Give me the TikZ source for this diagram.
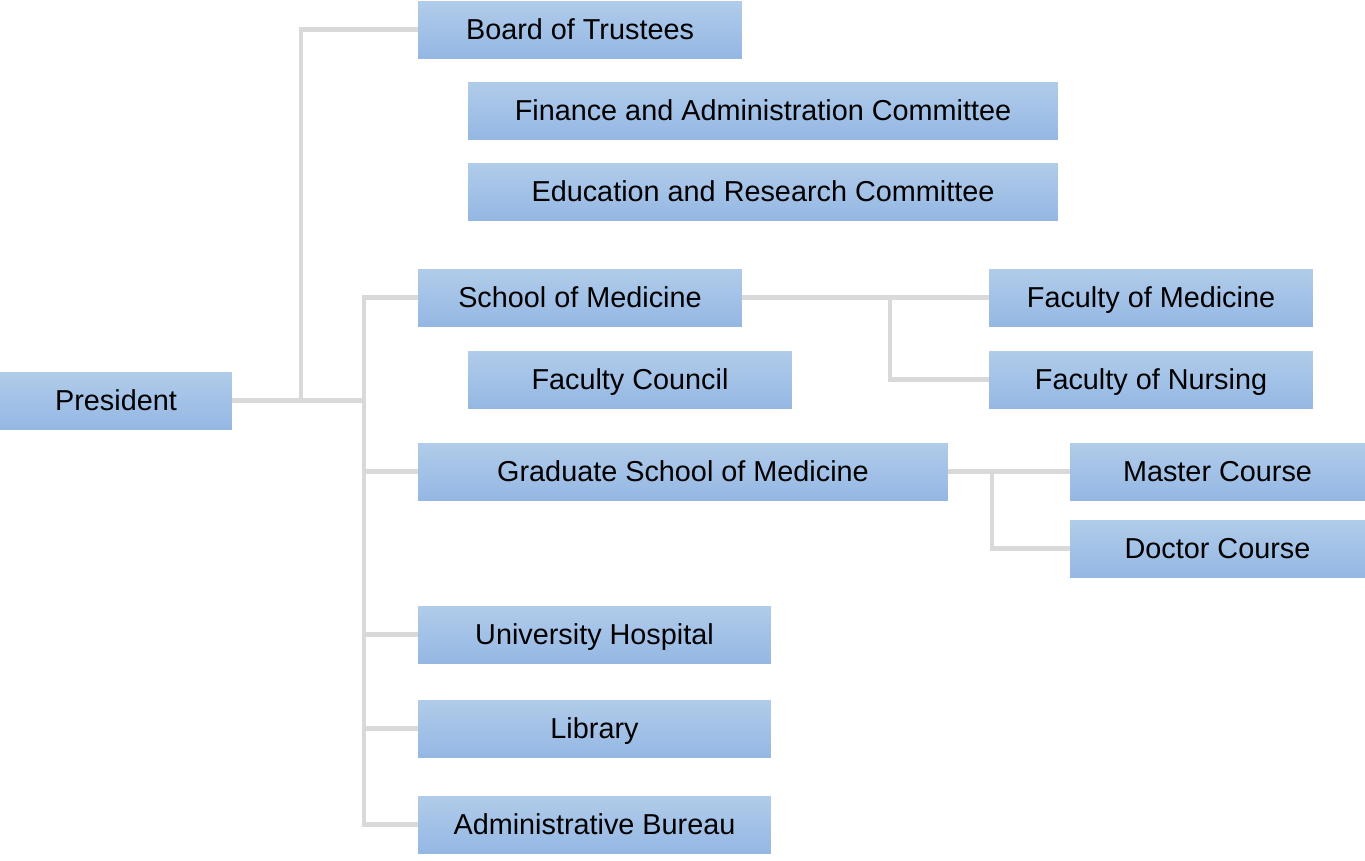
\documentclass[tikz,border=0pt]{standalone}
\usepackage{fontspec}
\setmainfont{Liberation Sans}
\usepackage{xcolor}
\usepackage{tikz}

\definecolor{boxtop}{HTML}{B1CCEA}
\definecolor{boxbot}{HTML}{94B7E3}
\definecolor{linegray}{HTML}{D9D9D9}

\tikzset{
	unit/.style={inner sep=0pt, minimum height=1.14cm, top color=boxtop, bottom color=boxbot,
		text height=11.8pt, text depth=0pt, font=\fontsize{16.4}{19}\selectfont},
	link/.style={draw=linegray, line width=2.5pt}
}

\begin{document}
\begin{tikzpicture}[x=0.02cm, y=-0.02cm]
		\useasboundingbox (0,0) rectangle (1365,860);

		\node (president) [unit, minimum width=4.64cm] at (116,   400.5) {President};
		\node (board)     [unit, minimum width=6.48cm] at (580,   29.5)  {Board of Trustees};
		\node (finance)   [unit, minimum width=11.8cm] at (763,   110.5) {Finance and Administration Committee};
		\node (edu)       [unit, minimum width=11.8cm] at (763,   191.5) {Education and Research Committee};
		\node (school)    [unit, minimum width=6.48cm] at (580,   297.5) {School of Medicine};
		\node (council)   [unit, minimum width=6.48cm] at (630,   379.5) {Faculty Council};
		\node (facmed)    [unit, minimum width=6.48cm] at (1151,  297.5) {Faculty of Medicine};
		\node (facnur)    [unit, minimum width=6.48cm] at (1151,  379.5) {Faculty of Nursing};
		\node (grad)      [unit, minimum width=10.6cm] at (683,   471.5) {Graduate School of Medicine};
		\node (master)    [unit, minimum width=5.9cm]  at (1217.5, 471.5) {Master Course};
		\node (doctor)    [unit, minimum width=5.9cm]  at (1217.5, 548.5) {Doctor Course};
		\node (hosp)      [unit, minimum width=7.06cm] at (594.5, 634.5) {University Hospital};
		\node (library)   [unit, minimum width=7.06cm] at (594.5, 728.5) {Library};
		\node (bureau)    [unit, minimum width=7.06cm] at (594.5, 824.5) {Administrative Bureau};

		\coordinate (bj)    at (301, 400.5);
		\coordinate (trunk) at (364, 400.5);
		\coordinate (mj)    at (890, 297.5);
		\coordinate (gj)    at (992, 471.5);

		\draw [link] (president.east) -- (trunk);
		\draw [link] (board.west) -| (bj);

		\draw [link] (school.west) -| (trunk) |- (bureau.west);
		\draw [link] (grad.west) -- (grad.west -| trunk);
		\draw [link] (hosp.west) -- (hosp.west -| trunk);
		\draw [link] (library.west) -- (library.west -| trunk);

		\draw [link] (school.east) -- (facmed.west);
		\draw [link] (mj) |- (facnur.west);

		\draw [link] (grad.east) -- (master.west);
		\draw [link] (gj) |- (doctor.west);
	\end{tikzpicture}
\end{document}
